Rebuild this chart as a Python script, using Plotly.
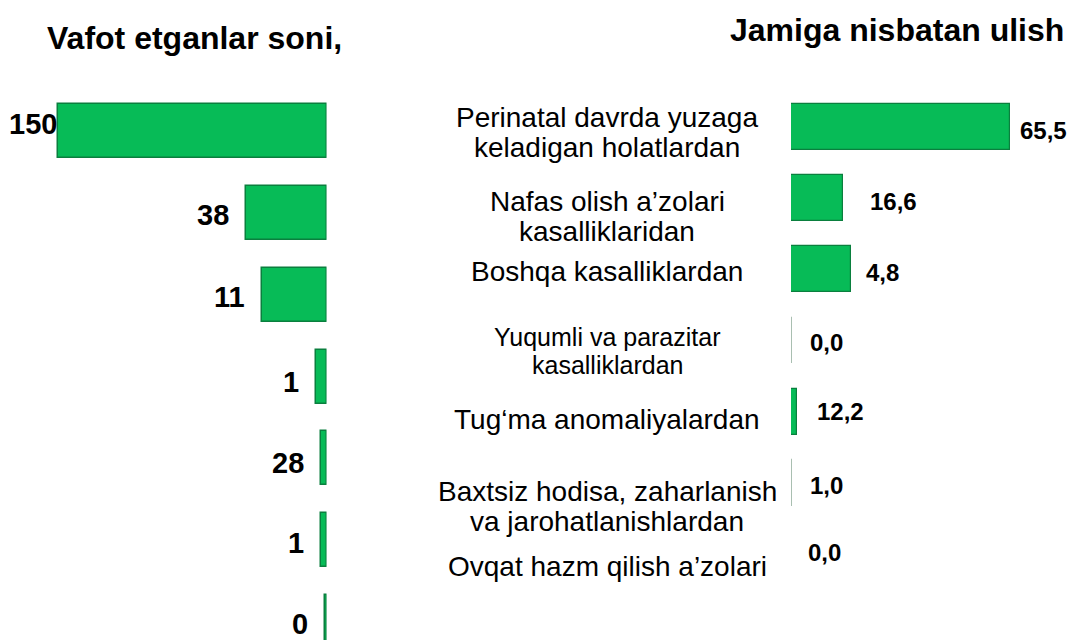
import plotly.graph_objects as go

# ---------------- data ----------------
cause_labels = [
    "Perinatal davrda yuzaga<br>keladigan holatlardan",
    "Nafas olish a’zolari<br>kasalliklaridan",
    "Boshqa kasalliklardan",
    "Yuqumli va parazitar<br>kasalliklardan",
    "Tug‘ma anomaliyalardan",
    "Baxtsiz hodisa, zaharlanish<br>va jarohatlanishlardan",
    "Ovqat hazm qilish a’zolari",
]
deaths_text = ["150", "38", "11", "1", "28", "1", "0"]
deaths_bar = [150, 44.8, 35.8, 5.6, 2.8, 2.8, 1.1]      # bar lengths as drawn
share_text = ["65,5", "16,6", "4,8", "0,0", "12,2", "1,0", "0,0"]
share_bar = [65.5, 15.6, 18.0, 0.3, 1.8, 0.3, 0]         # bar lengths as drawn

title_left = "Vafot etganlar soni,"
title_right = "Jamiga nisbatan ulish"

# ---------------- styles ----------------
# the page body adds an 8px margin, so the figure is drawn 8px smaller
OFF = 8
W, H = 1075 - OFF, 640 - OFF
GREEN = "#07bb57"
EDGE = "#0a7f3e"
FAINT = "#a9bfb1"
FONT = "Liberation Sans, Arial, sans-serif"

left_val_xshift = [0, -16, -16, -16, -16, -16, -16]
left_val_yshift = [7, -2, -2, -5, -5, -3, -2]
right_val_xshift = [8, 25, 13, 16, 18, 16, 15]
right_val_yshift = [-3, -3, -3, -2, 0, -3, 2]
label_offset = [5.5, 18, 2, 10, 8, 23.5, 12]      # px below bar centre
label_size = [28, 28, 28, 25, 28, 28, 28]
LINE_GAP = 30

right_edges = [EDGE if v >= 1 else FAINT for v in share_bar]

fig = go.Figure()

fig.add_trace(go.Bar(
    x=deaths_bar, y=cause_labels, orientation="h",
    marker=dict(color=GREEN, line=dict(color=EDGE, width=1.5)),
    width=0.66, xaxis="x", yaxis="y", hoverinfo="skip", showlegend=False,
))
fig.add_trace(go.Bar(
    x=share_bar, y=cause_labels, orientation="h",
    marker=dict(color=GREEN, line=dict(color=right_edges, width=1.2)),
    width=0.646, xaxis="x2", yaxis="y2", hoverinfo="skip", showlegend=False,
))

annotations = []
for i, c in enumerate(cause_labels):
    annotations.append(dict(
        x=deaths_bar[i], y=c, xref="x", yref="y", text=deaths_text[i],
        showarrow=False, xanchor="right", yanchor="middle",
        xshift=left_val_xshift[i], yshift=left_val_yshift[i], borderpad=0,
        font=dict(family=FONT, size=29, color="black", weight="bold"),
    ))
    annotations.append(dict(
        x=share_bar[i], y=c, xref="x2", yref="y2", text=share_text[i],
        showarrow=False, xanchor="left", yanchor="middle",
        xshift=right_val_xshift[i], yshift=right_val_yshift[i],
        font=dict(family=FONT, size=24, color="black", weight="bold"),
    ))
    lines = c.split("<br>")
    n = len(lines)
    for j, ln in enumerate(lines):
        gap = LINE_GAP if label_size[i] > 26 else 28
        off = label_offset[i] + (j - (n - 1) / 2) * gap
        annotations.append(dict(
            x=(607 - OFF) / W, y=c, xref="paper", yref="y2", text=ln,
            showarrow=False, xanchor="center", yanchor="middle",
            yshift=-off,
            font=dict(family=FONT, size=label_size[i], color="black"),
        ))

annotations.append(dict(
    x=(194.5 - OFF) / W, y=1 - (38 - OFF) / H, xref="paper", yref="paper", text=title_left,
    showarrow=False, xanchor="center", yanchor="middle",
    font=dict(family=FONT, size=32, color="black", weight="bold"),
))
annotations.append(dict(
    x=(897 - OFF) / W, y=1 - (30 - OFF) / H, xref="paper", yref="paper", text=title_right,
    showarrow=False, xanchor="center", yanchor="middle",
    font=dict(family=FONT, size=32, color="black", weight="bold"),
))

hidden = dict(showgrid=False, zeroline=False, showticklabels=False, showline=False, ticks="")

# left panel: bars end at page x 326.5, the 150 bar starts at page x 58
left_right_px = 326.5 - OFF
px_per_unit_left = (326.5 - 58) / 150
left_max = left_right_px / px_per_unit_left
# right panel: zero at page x 791, 65.5 reaches page x 1010
px_per_unit_right = (1010 - 791) / 65.5
right_max = (W - (791 - OFF)) / px_per_unit_right

# row geometry (page px of first row centre, row pitch)
l_c0, l_pitch = 131 - OFF, (622 - 131) / 6
r_c0, r_pitch = 127 - OFF, (554 - 127) / 6

fig.update_layout(
    width=W, height=H,
    margin=dict(l=0, r=0, t=0, b=0),
    paper_bgcolor="white", plot_bgcolor="white",
    bargap=0,
    xaxis=dict(domain=[0, left_right_px / W], range=[left_max, 0], **hidden),
    yaxis=dict(domain=[0, 1], type="category", categoryorder="array",
               categoryarray=cause_labels,
               range=[(H - l_c0) / l_pitch, -l_c0 / l_pitch], **hidden),
    xaxis2=dict(domain=[(791 - OFF) / W, 1], range=[0, right_max], anchor="y2", **hidden),
    yaxis2=dict(domain=[0, 1], type="category", categoryorder="array",
                categoryarray=cause_labels,
                range=[(H - r_c0) / r_pitch, -r_c0 / r_pitch], anchor="x2", **hidden),
    annotations=annotations,
)

fig.write_html("out.html")
